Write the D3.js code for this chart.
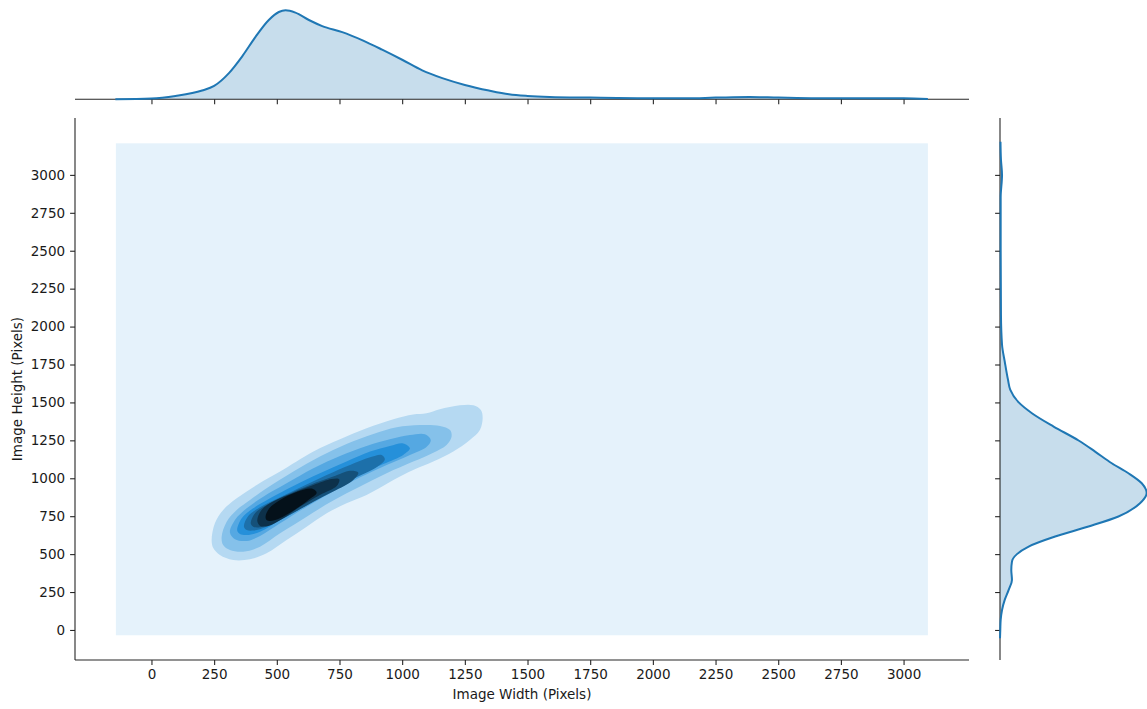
<!DOCTYPE html>
<html>
<head>
<meta charset="utf-8">
<script src="https://cdn.jsdelivr.net/npm/d3@7"></script>
<style>
  html, body { margin: 0; padding: 0; background: #fff; }
  svg { display: block; }
  text { font-family: "DejaVu Sans", sans-serif; fill: #1a1a1a; }
</style>
</head>
<body>
<svg id="chart" width="1147" height="709"></svg>
<script>
// ---- Data -------------------------------------------------------------
const xTicks = [0, 250, 500, 750, 1000, 1250, 1500, 1750, 2000, 2250, 2500, 2750, 3000];
const yTicks = [0, 250, 500, 750, 1000, 1250, 1500, 1750, 2000, 2250, 2500, 2750, 3000];
const xLabel = "Image Width (Pixels)";
const yLabel = "Image Height (Pixels)";

// Extent of the 2-D density grid (lowest filled level covers it all)
const gridWidth = [-142, 3097];
const gridHeight = [-35, 3208];

// Marginal density of image width: [width, density ×1e-4]
const widthDensity = [
  [-144, 0], [0, 0.09], [96, 0.42], [202, 1.10], [250, 1.68], [309, 3.28],
  [362, 5.38], [415, 7.81], [468, 9.92], [508, 10.92], [535, 11.13], [574, 10.84],
  [628, 9.92], [681, 9.16], [761, 8.40], [840, 7.40], [920, 6.21], [1000, 4.95],
  [1080, 3.62], [1160, 2.65], [1250, 1.80], [1346, 1.10], [1426, 0.63], [1500, 0.42],
  [1588, 0.29], [1750, 0.21], [2000, 0.13], [2134, 0.13], [2250, 0.21], [2386, 0.29],
  [2500, 0.21], [2652, 0.13], [2750, 0.13], [2900, 0.13], [3000, 0.13], [3097, 0.05]
];

// Marginal density of image height: [height, density ×1e-4]
const heightDensity = [
  [-55, 0], [0, 0.03], [66, 0.07], [132, 0.21], [198, 0.49], [264, 0.90],
  [330, 1.24], [396, 1.17], [451, 1.24], [500, 1.76], [550, 2.97], [616, 5.72],
  [682, 9.18], [748, 12.28], [836, 14.52], [903, 15.21], [967, 14.70], [1033, 13.32],
  [1099, 11.59], [1176, 9.86], [1249, 8.15], [1341, 5.56], [1429, 3.31], [1500, 1.94],
  [1583, 1.07], [1649, 0.83], [1770, 0.49], [1880, 0.21], [2080, 0.10], [2520, 0.07],
  [2850, 0.07], [3000, 0.21], [3100, 0.10], [3219, 0.05]
];

// Filled density levels, outermost to innermost: [width, height] outlines
const level1 = [
  [240, 593], [253, 703], [286, 791], [340, 868], [420, 956], [513, 1044], [646, 1176],
  [752, 1257], [858, 1329], [965, 1389], [1044, 1420], [1097, 1428], [1150, 1455],
  [1230, 1481], [1284, 1481], [1314, 1450], [1321, 1395], [1310, 1318], [1270, 1252],
  [1204, 1176], [1124, 1110], [1044, 1055], [965, 989], [858, 890], [778, 835],
  [699, 769], [619, 681], [539, 593], [459, 505], [393, 466], [326, 461], [273, 494], [247, 538]
];
const level2 = [
  [280, 615], [300, 714], [340, 791], [393, 857], [459, 934], [566, 1044], [672, 1143],
  [778, 1226], [885, 1292], [978, 1336], [1071, 1351], [1151, 1345], [1191, 1318],
  [1197, 1274], [1177, 1220], [1124, 1169], [1044, 1110], [938, 1033], [832, 945],
  [725, 853], [619, 747], [513, 637], [433, 549], [366, 516], [313, 527], [286, 560]
];
const level3 = [
  [313, 642], [333, 725], [380, 802], [446, 879], [539, 967], [646, 1066], [752, 1147],
  [858, 1213], [951, 1257], [1031, 1285], [1091, 1290], [1114, 1252], [1098, 1208],
  [1031, 1154], [938, 1088], [832, 1006], [725, 912], [619, 813], [513, 703],
  [433, 620], [380, 587], [333, 598]
];
const level4 = [
  [342, 655], [360, 736], [406, 802], [473, 868], [566, 949], [672, 1033], [778, 1110],
  [872, 1176], [951, 1213], [1004, 1230], [1031, 1198], [1004, 1154], [925, 1094],
  [818, 1022], [712, 934], [606, 835], [513, 725], [433, 648], [380, 626], [353, 633]
];
const level5 = [
  [369, 681], [386, 751], [433, 809], [513, 875], [606, 949], [699, 1022], [792, 1088],
  [872, 1138], [918, 1154], [931, 1125], [898, 1072], [818, 1006], [725, 923],
  [632, 835], [539, 747], [459, 681], [406, 655], [380, 659]
];
const level6 = [
  [396, 703], [413, 769], [459, 824], [539, 890], [632, 956], [725, 1011], [792, 1050],
  [825, 1037], [805, 989], [725, 912], [646, 846], [566, 773], [486, 707], [433, 677], [406, 681]
];
const level7 = [
  [422, 721], [439, 791], [493, 853], [566, 905], [646, 956], [719, 995], [749, 993],
  [739, 949], [672, 890], [592, 813], [526, 736], [466, 686], [433, 686]
];
const level8 = [
  [455, 743], [470, 802], [513, 857], [579, 910], [639, 932], [659, 905], [626, 857],
  [559, 780], [493, 725], [462, 721]
];
const densityLevels = [level1, level2, level3, level4, level5, level6, level7, level8];

// ---- Layout ------------------------------------------------------------
const svg = d3.select("#chart");
const main = { left: 75, right: 969, top: 118, bottom: 660 };
const topBox = { top: 5.9, bottom: 99.3 };
const rightBox = { left: 1000, right: 1154 };
const lineColor = "#1f77b4";
const axisColor = "#262626";
const tickLen = 4.9;

const x = d3.scaleLinear().domain([-305, 3261]).range([main.left, main.right]);
const y = d3.scaleLinear().domain([-198, 3375]).range([main.bottom, main.top]);

const topMax = d3.max(widthDensity, d => d[1]);
const yTop = d3.scaleLinear().domain([0, topMax * 1.05]).range([topBox.bottom, topBox.top]);
const rightMax = d3.max(heightDensity, d => d[1]);
const xRight = d3.scaleLinear().domain([0, rightMax * 1.05]).range([rightBox.left, rightBox.right]);

// Colour ramp of the filled levels: light to almost black along one hue
const levelColor = i => d3.hsl(204.5, 0.706, 0.94 - i * 0.11).formatHex();

// ---- Joint density -------------------------------------------------------
const joint = svg.append("g");
joint.append("rect")
  .attr("x", x(gridWidth[0]))
  .attr("y", y(gridHeight[1]))
  .attr("width", x(gridWidth[1]) - x(gridWidth[0]))
  .attr("height", y(gridHeight[0]) - y(gridHeight[1]))
  .attr("fill", levelColor(0));

const outline = d3.line()
  .x(d => x(d[0]))
  .y(d => y(d[1]))
  .curve(d3.curveCatmullRomClosed.alpha(0.5));

joint.selectAll("path.level")
  .data(densityLevels)
  .join("path")
  .attr("class", "level")
  .attr("d", outline)
  .attr("fill", (d, i) => levelColor(i + 1));

// Main axes
const xAxis = d3.axisBottom(x).tickValues(xTicks).tickSize(tickLen).tickPadding(5).tickFormat(d3.format("d"));
const yAxis = d3.axisLeft(y).tickValues(yTicks).tickSize(tickLen).tickPadding(5).tickFormat(d3.format("d"));

function styleAxis(g) {
  g.select(".domain").attr("stroke", axisColor).attr("stroke-width", 1.1);
  g.selectAll(".tick line").attr("stroke", axisColor).attr("stroke-width", 1.1);
  g.selectAll(".tick text").attr("font-size", 13.5).attr("fill", "#1a1a1a")
    .attr("font-family", "DejaVu Sans, sans-serif");
}

const gx = svg.append("g")
  .attr("transform", `translate(0,${main.bottom})`)
  .call(xAxis.tickSizeOuter(0));
gx.select(".domain").attr("d", `M${main.left},0H${main.right}`);
styleAxis(gx);

const gy = svg.append("g")
  .attr("transform", `translate(${main.left},0)`)
  .call(yAxis.tickSizeOuter(0));
gy.select(".domain").attr("d", `M0,${main.top}V${main.bottom}`);
styleAxis(gy);

svg.append("text")
  .attr("x", (main.left + main.right) / 2)
  .attr("y", 699)
  .attr("text-anchor", "middle")
  .attr("font-size", 13.5)
  .text(xLabel);

svg.append("text")
  .attr("transform", `translate(22,${(main.top + main.bottom) / 2}) rotate(-90)`)
  .attr("text-anchor", "middle")
  .attr("font-size", 13.5)
  .text(yLabel);

// ---- Top marginal: width density ----------------------------------------
const topG = svg.append("g");
topG.append("path")
  .datum(widthDensity)
  .attr("d", d3.area()
    .x(d => x(d[0]))
    .y0(yTop(0))
    .y1(d => yTop(d[1]))
    .curve(d3.curveMonotoneX))
  .attr("fill", lineColor)
  .attr("fill-opacity", 0.25);

const gTopAxis = topG.append("g")
  .attr("transform", `translate(0,${topBox.bottom})`)
  .call(d3.axisBottom(x).tickValues(xTicks).tickSize(tickLen).tickSizeOuter(0).tickFormat(""));
gTopAxis.select(".domain").attr("d", `M${main.left},0H${main.right}`);
styleAxis(gTopAxis);

topG.append("path")
  .datum(widthDensity)
  .attr("d", d3.line()
    .x(d => x(d[0]))
    .y(d => yTop(d[1]))
    .curve(d3.curveMonotoneX))
  .attr("fill", "none")
  .attr("stroke", lineColor)
  .attr("stroke-width", 2);

// ---- Right marginal: height density -------------------------------------
const rightG = svg.append("g");
rightG.append("path")
  .datum(heightDensity)
  .attr("d", d3.area()
    .y(d => y(d[0]))
    .x0(xRight(0))
    .x1(d => xRight(d[1]))
    .curve(d3.curveMonotoneY))
  .attr("fill", lineColor)
  .attr("fill-opacity", 0.25);

const gRightAxis = rightG.append("g")
  .attr("transform", `translate(${rightBox.left},0)`)
  .call(d3.axisLeft(y).tickValues(yTicks).tickSize(tickLen).tickSizeOuter(0).tickFormat(""));
gRightAxis.select(".domain").attr("d", `M0,${main.top}V${main.bottom}`);
styleAxis(gRightAxis);

rightG.append("path")
  .datum(heightDensity)
  .attr("d", d3.line()
    .y(d => y(d[0]))
    .x(d => xRight(d[1]))
    .curve(d3.curveMonotoneY))
  .attr("fill", "none")
  .attr("stroke", lineColor)
  .attr("stroke-width", 2);
</script>
</body>
</html>
